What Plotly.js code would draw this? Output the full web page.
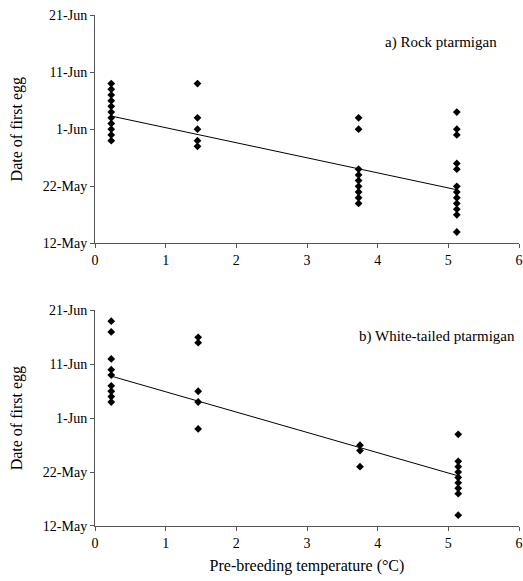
<!DOCTYPE html>
<html>
<head>
<meta charset="utf-8">
<script src="https://cdn.plot.ly/plotly-3.0.1.min.js"></script>
<style>html,body{margin:0;padding:0;background:#fff;}#chart{width:523px;height:581px;}</style>
</head>
<body>
<div id="chart"></div>
<script>
// Date values are day numbers counted from 1 May (1-Jun = 32)
var yTickVals = [12, 22, 32, 42, 52];
var yTickText = ['12-May', '22-May', '1-Jun', '11-Jun', '21-Jun'];

// a) Rock ptarmigan
var rockX = [0.23,0.23,0.23,0.23,0.23,0.23,0.23,0.23,0.23,0.23,0.23,
             1.45,1.45,1.45,1.45,1.45,
             3.73,3.73,3.73,3.73,3.73,3.73,3.73,3.73,3.73,
             5.12,5.12,5.12,5.12,5.12,5.12,5.12,5.12,5.12,5.12,5.12,5.12];
var rockY = [40,39,38,37,36,35,34,33,32,31,30,
             40,34,32,30,29,
             34,32,25,24,23,22,21,20,19,
             35,32,31,26,25,22,21,20,19,18,17,14];
var rockFitX = [0.23, 5.12];
var rockFitY = [34.3, 21.4];

// b) White-tailed ptarmigan
var wtX = [0.23,0.23,0.23,0.23,0.23,0.23,0.23,0.23,0.23,
           1.46,1.46,1.46,1.46,1.46,
           3.75,3.75,3.75,
           5.14,5.14,5.14,5.14,5.14,5.14,5.14,5.14,5.14];
var wtY = [50,48,43,41,40,38,37,36,35,
           47,46,37,35,30,
           27,26,23,
           29,24,23,22,21,20,19,18,14];
var wtFitX = [0.23, 5.14];
var wtFitY = [39.8, 21.3];

var serif = 'Liberation Serif, Times New Roman, serif';
var mk = {symbol: 'diamond', size: 6, color: '#000'};
var ln = {color: '#000', width: 1};

var traces = [
  {x: rockX, y: rockY, mode: 'markers', type: 'scatter', marker: mk, xaxis: 'x', yaxis: 'y', hoverinfo: 'skip'},
  {x: rockFitX, y: rockFitY, mode: 'lines', type: 'scatter', line: ln, xaxis: 'x', yaxis: 'y', hoverinfo: 'skip'},
  {x: wtX, y: wtY, mode: 'markers', type: 'scatter', marker: mk, xaxis: 'x2', yaxis: 'y2', hoverinfo: 'skip'},
  {x: wtFitX, y: wtFitY, mode: 'lines', type: 'scatter', line: ln, xaxis: 'x2', yaxis: 'y2', hoverinfo: 'skip'}
];

function xax(anchor, withTitle) {
  var a = {
    range: [0, 6], dtick: 1, tick0: 0, anchor: anchor,
    showgrid: false, zeroline: false, showline: true, linecolor: '#555', linewidth: 1,
    ticks: 'outside', ticklen: 4, tickcolor: '#555',
    tickfont: {family: serif, size: 14, color: '#000'},
    fixedrange: true
  };
  if (withTitle) a.title = {text: 'Pre-breeding temperature (°C)', font: {family: serif, size: 16, color: '#000'}, standoff: 10};
  return a;
}
function yax(anchor, dom) {
  return {
    range: [12, 52], domain: dom, anchor: anchor,
    tickvals: yTickVals, ticktext: yTickText,
    showgrid: false, zeroline: false, showline: true, linecolor: '#555', linewidth: 1,
    ticks: 'outside', ticklen: 4, tickcolor: '#555',
    tickfont: {family: serif, size: 14, color: '#000'},
    title: {text: 'Date of first egg', font: {family: serif, size: 16, color: '#000'}, standoff: 16},
    fixedrange: true
  };
}

var layout = {
  width: 523, height: 581,
  margin: {l: 95, r: 4, t: 15, b: 55},
  paper_bgcolor: '#fff', plot_bgcolor: '#fff',
  showlegend: false,
  xaxis: xax('y', false),
  yaxis: yax('x', [0.553, 1]),
  xaxis2: xax('y2', true),
  yaxis2: yax('x2', [0, 0.422]),
  annotations: [
    {text: 'a) Rock ptarmigan', xref: 'x', yref: 'y', x: 5.72, y: 47.2, xanchor: 'right', yanchor: 'middle',
     showarrow: false, font: {family: serif, size: 15, color: '#000'}},
    {text: 'b) White-tailed ptarmigan', xref: 'x2', yref: 'y2', x: 5.97, y: 47.2, xanchor: 'right', yanchor: 'middle',
     showarrow: false, font: {family: serif, size: 15, color: '#000'}}
  ]
};

Plotly.newPlot('chart', traces, layout, {staticPlot: true, displayModeBar: false});
</script>
</body>
</html>
